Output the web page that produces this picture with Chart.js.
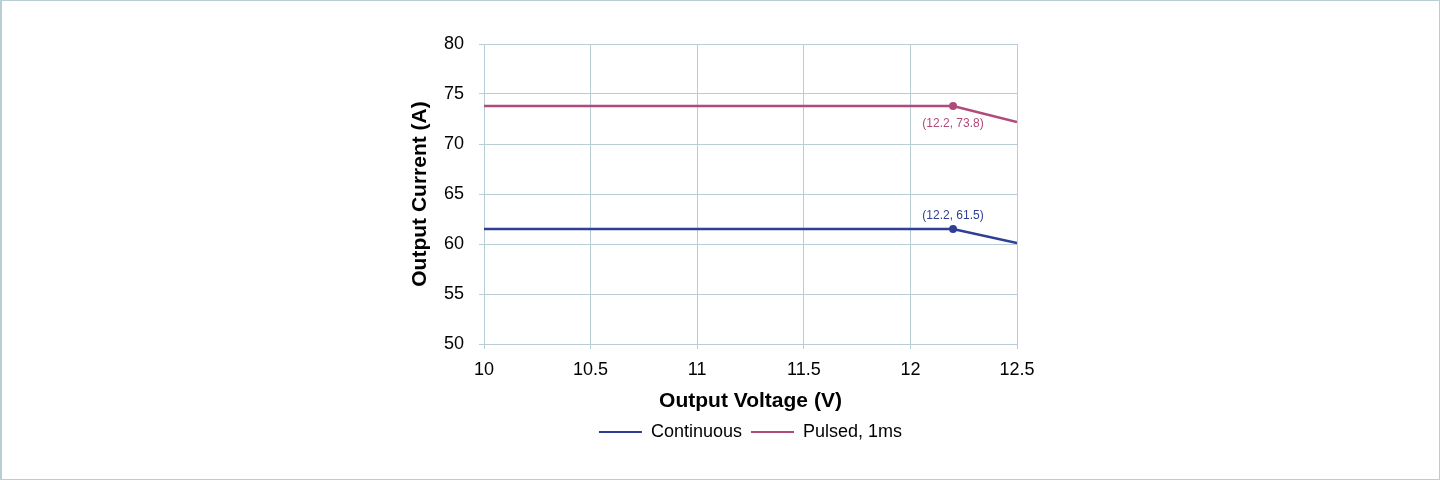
<!DOCTYPE html>
<html lang="en">
  <head>
    <meta charset="UTF-8" />
    <title>Output Current vs Output Voltage</title>
    <script src="https://cdn.jsdelivr.net/npm/chart.js"></script>
    <style>
      * {
        margin: 0;
        padding: 0;
        box-sizing: border-box;
      }
      body {
        background: #fff;
        font-family: "Liberation Sans", Arial, sans-serif;
      }
      .frame {
        width: 1440px;
        height: 480px;
        border: 1px solid #b9cdd5;
        border-left-width: 2px;
        background: #fff;
      }
    </style>
  </head>
  <body>
    <div class="frame">
      <canvas id="chart" width="1437" height="478"></canvas>
    </div>

    <script>
      // data
      var voltage = [10, 12.2, 12.5];
      var continuousCurrent = [61.5, 61.5, 60.1];
      var pulsedCurrent = [73.8, 73.8, 72.2];
      var seriesNames = ["Continuous", "Pulsed, 1ms"];
      var seriesColors = ["#2e3f96", "#b04a7a"];
      var xTicks = [10, 10.5, 11, 11.5, 12, 12.5];
      var yTicks = [50, 55, 60, 65, 70, 75, 80];

      var gridColor = "#b9cdd5";
      var fontFamily = "'Liberation Sans', Arial, sans-serif";

      function toPoints(xs, ys) {
        return xs.map(function (x, i) {
          return { x: x, y: ys[i] };
        });
      }

      // only the knee point has a marker
      var markerRadius = [0, 4, 0];

      // label near the knee point of each line
      var kneeLabels = {
        id: "kneeLabels",
        afterDatasetsDraw: function (chart) {
          var ctx = chart.ctx;
          ctx.save();
          ctx.font = "12px " + fontFamily;
          ctx.textAlign = "center";
          ctx.textBaseline = "middle";
          chart.data.datasets.forEach(function (ds, i) {
            var pt = chart.getDatasetMeta(i).data[1];
            var v = ds.data[1];
            ctx.fillStyle = ds.borderColor;
            var dy = i === 0 ? -13 : 18;
            ctx.fillText("(" + v.x + ", " + v.y + ")", pt.x, pt.y + dy);
          });
          ctx.restore();
        },
      };

      function makeSeries(name, values, color) {
        return {
          label: name,
          data: toPoints(voltage, values),
          borderColor: color,
          backgroundColor: color,
          borderWidth: 2.5,
          pointRadius: markerRadius,
          pointBorderWidth: 0,
          pointBackgroundColor: color,
          tension: 0,
        };
      }

      new Chart(document.getElementById("chart").getContext("2d"), {
        type: "line",
        data: {
          datasets: [
            makeSeries(seriesNames[0], continuousCurrent, seriesColors[0]),
            makeSeries(seriesNames[1], pulsedCurrent, seriesColors[1]),
          ],
        },
        options: {
          responsive: false,
          animation: false,
          layout: {
            padding: { left: 398, right: 422, top: 43, bottom: 28 },
          },
          plugins: {
            tooltip: { enabled: false },
            legend: {
              position: "bottom",
              fullSize: false,
              labels: {
                boxWidth: 43,
                boxHeight: 2,
                padding: 9,
                color: "#000",
                font: { family: fontFamily, size: 18 },
                generateLabels: function (chart) {
                  var items = Chart.defaults.plugins.legend.labels.generateLabels(chart);
                  items.forEach(function (it) {
                    it.lineWidth = 0;
                  });
                  return items;
                },
              },
            },
          },
          scales: {
            x: {
              type: "linear",
              min: xTicks[0],
              max: xTicks[xTicks.length - 1],
              afterBuildTicks: function (scale) {
                scale.ticks = xTicks.map(function (v) {
                  return { value: v };
                });
              },
              afterFit: function (scale) {
                scale.height = 70;
              },
              grid: { color: gridColor, tickLength: 5, lineWidth: 1 },
              border: { color: gridColor },
              ticks: {
                color: "#000",
                padding: 10,
                maxRotation: 0,
                font: { family: fontFamily, size: 18 },
                callback: function (v) {
                  return String(v);
                },
              },
              title: {
                display: true,
                text: "Output Voltage (V)",
                color: "#000",
                padding: { top: 6, bottom: 0 },
                font: { family: fontFamily, size: 21, weight: "bold" },
              },
            },
            y: {
              min: yTicks[0],
              max: yTicks[yTicks.length - 1],
              afterBuildTicks: function (scale) {
                scale.ticks = yTicks.map(function (v) {
                  return { value: v };
                });
              },
              afterFit: function (scale) {
                scale.width = 84;
              },
              grid: { color: gridColor, tickLength: 5, lineWidth: 1 },
              border: { color: gridColor },
              ticks: {
                color: "#000",
                padding: 15,
                font: { family: fontFamily, size: 18 },
              },
              title: {
                display: true,
                text: "Output Current (A)",
                color: "#000",
                padding: { top: 8, bottom: 0 },
                font: { family: fontFamily, size: 21, weight: "bold" },
              },
            },
          },
        },
        plugins: [kneeLabels],
      });
    </script>
  </body>
</html>
